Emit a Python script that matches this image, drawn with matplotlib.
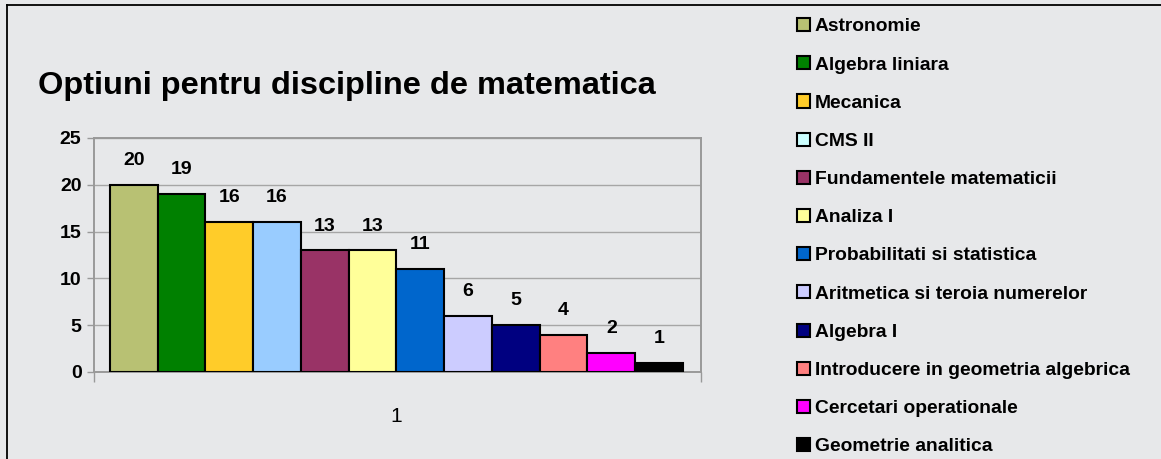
import matplotlib.pyplot as plt
from matplotlib.lines import Line2D
from matplotlib.patches import Patch

plt.rcParams['font.family'] = ['Liberation Sans', 'DejaVu Sans']

disciplines = [
    "Astronomie", "Algebra liniara", "Mecanica", "CMS II",
    "Fundamentele matematicii", "Analiza I", "Probabilitati si statistica",
    "Aritmetica si teroia numerelor", "Algebra I",
    "Introducere in geometria algebrica", "Cercetari operationale",
    "Geometrie analitica",
]
votes = [20, 19, 16, 16, 13, 13, 11, 6, 5, 4, 2, 1]
bar_colors = [
    "#B8C173", "#008000", "#FFCC29", "#99CCFF", "#993366", "#FFFF99",
    "#0066CC", "#CCCCFF", "#000080", "#FF8080", "#FF00FF", "#000000",
]
# the legend swatch of CMS II is lighter than its bar in the original
legend_colors = bar_colors[:3] + ["#CCFFFF"] + bar_colors[4:]
y_ticks = [0, 5, 10, 15, 20, 25]

BG = "#E7E8EA"
W, H = 1161, 459

fig = plt.figure(figsize=(W / 100, H / 100), dpi=100, facecolor=BG)
ax = fig.add_axes([94 / W, 1 - 372 / H, (701 - 94) / W, (372 - 138) / H])
ax.set_facecolor(BG)

x = list(range(len(votes)))
bars = ax.bar(x, votes, width=1.0, color=bar_colors,
              edgecolor="black", linewidth=1.5, zorder=3)

for xi, v in zip(x, votes):
    ax.annotate(str(v), (xi, v), xytext=(0, 17.5), textcoords="offset points",
                ha="center", va="center", fontsize=14, fontweight="bold")

ax.set_xlim(-0.5 - 0.335, len(votes) - 0.5 + 0.377)
ax.set_ylim(0, 25)
ax.set_yticks(y_ticks)
ax.set_yticklabels([str(t) for t in y_ticks], fontsize=14, fontweight="bold")
ax.grid(axis="y", color="#A6A6A6", linewidth=1, zorder=0)

# single category label in the middle, boundary ticks at the ends
ax.set_xticks([(len(votes) - 1) / 2])
ax.set_xticklabels(["1"], fontsize=15)
ax.tick_params(axis="x", length=0, pad=25)
ax.set_xticks(list(ax.get_xlim()), minor=True)
ax.tick_params(axis="x", which="minor", length=7, color="#999999", width=1)
ax.tick_params(axis="y", length=5, color="#999999", width=1, pad=4)

for side in ["left", "bottom", "top", "right"]:
    ax.spines[side].set_color("#999999")
    ax.spines[side].set_linewidth(1.4)

fig.text(38 / W, 1 - 86 / H, "Optiuni pentru discipline de matematica",
         fontsize=23.4, fontweight="bold", ha="left", va="center")

handles = [Patch(facecolor=c, edgecolor="black", linewidth=1.5)
           for c in legend_colors]
fig.legend(handles, disciplines, loc="upper left",
           bbox_to_anchor=(797 / W, 1 - 18 / H), frameon=False,
           prop=dict(size=13.9, weight="bold"),
           handlelength=0.67, handleheight=0.67, handletextpad=0.26,
           labelspacing=1.08, borderpad=0, borderaxespad=0)

# outer border (only left and top edges are visible in the original)
fig.add_artist(Line2D([6.5 / W, 6.5 / W], [0, 1 - 4.5 / H],
                      transform=fig.transFigure, color="black", linewidth=1.3))
fig.add_artist(Line2D([6.5 / W, 1], [1 - 4.5 / H, 1 - 4.5 / H],
                      transform=fig.transFigure, color="black", linewidth=1.3))

fig.savefig("out.png", dpi=100, facecolor=BG)
